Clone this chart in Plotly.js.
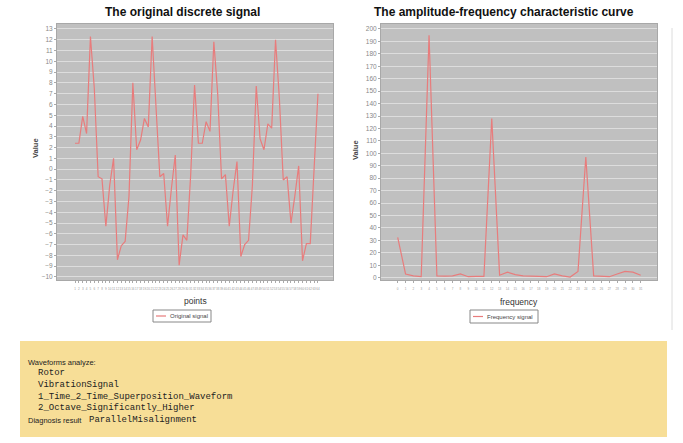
<!DOCTYPE html>
<html><head><meta charset="utf-8">
<script src="https://cdn.plot.ly/plotly-3.0.1.min.js"></script>
<style>html,body{margin:0;padding:0;background:#fff;overflow:hidden}#chart{width:683px;height:443px}</style>
</head><body><div id="chart"></div>
<script>
// ---- data ----
const signalPoints = ['1','2','3','4','5','6','7','8','9','10','11','12','13','14','15','16',
  '17','18','19','20','21','22','23','24','25','26','27','28','29','30','31','32',
  '33','34','35','36','37','38','39','40','41','42','43','44','45','46','47','48',
  '49','50','51','52','53','54','55','56','57','58','59','60','61','62','63','64'];
const signalValues = [2.4,2.4,4.9,3.3,12.3,7.5,-0.7,-0.9,-5.3,-1.5,1.0,-8.4,-7.1,-6.7,-2.5,8.0,
  1.8,2.7,4.7,3.9,12.3,6.0,-0.7,-0.4,-5.3,-1.8,1.3,-8.9,-6.1,-6.6,-0.5,7.8,
  2.4,2.4,4.4,3.5,11.8,7.0,-0.9,-0.5,-5.3,-2.0,0.7,-8.1,-7.0,-6.6,-1.5,7.7,
  2.8,1.8,4.2,3.8,12.0,6.5,-1.0,-0.7,-5.0,-2.5,0.3,-8.5,-6.9,-6.9,-0.5,7.0];
const freqBins = ['0','1','2','3','4','5','6','7','8','9','10','11','12','13','14','15',
  '16','17','18','19','20','21','22','23','24','25','26','27','28','29','30','31'];
const freqValues = [32.5,3.0,1.5,0.8,195,1.5,1.2,1.5,3.0,0.8,1.0,1.0,128,2.0,4.5,2.5,
  1.5,1.0,1.0,0.8,3.0,1.5,0.5,5.0,97,1.5,1.0,0.8,3.0,5.0,4.5,2.0];
const leftYTicks = {from: -10, to: 13, step: 1};
const rightYTicks = {from: 0, to: 200, step: 10};
const analysisLines = ['Rotor','VibrationSignal','1_Time_2_Time_Superposition_Waveform','2_Octave_Significantly_Higher'];
const diagnosisLabel = 'Diagnosis result';
const diagnosisValue = 'ParallelMisalignment';

// ---- layout helpers ----
const W = 683, H = 443;
const px = x => x / W, py = y => 1 - y / H;
const lineColor = '#e87c7c';
const sans = 'Liberation Sans, Arial, sans-serif';
const mono = 'Liberation Mono, monospace';

const traces = [
  {x: signalPoints, y: signalValues, type: 'scatter', mode: 'lines', xaxis: 'x', yaxis: 'y',
   line: {color: lineColor, width: 1.2}, showlegend: false, hoverinfo: 'skip'},
  {x: freqBins, y: freqValues, type: 'scatter', mode: 'lines', xaxis: 'x2', yaxis: 'y2',
   line: {color: lineColor, width: 1.2}, showlegend: false, hoverinfo: 'skip'}
];

function xAx(d, r) {
  return {domain: d, range: r, type: 'category', tickmode: 'linear', tick0: 0, dtick: 1,
    showgrid: false, zeroline: false,
    ticks: 'outside', ticklen: 2, tickcolor: '#aaa', tickwidth: 1,
    tickfont: {size: 3, color: '#999', family: sans}, tickangle: 0, ticklabelstandoff: 3,
    showline: true, linecolor: '#a8a8a8', mirror: true};
}
function yAx(d, r, t) {
  return {domain: d, range: r, tick0: t.from, dtick: t.step, showgrid: true,
    gridcolor: 'rgba(240,240,240,0.75)', gridwidth: 0.8, zeroline: false,
    ticks: 'outside', ticklen: 2, tickcolor: '#aaa',
    tickfont: {size: 6.5, color: '#888', family: sans},
    showline: true, linecolor: '#a8a8a8', mirror: true};
}

const layout = {
  width: W, height: H, margin: {l: 0, r: 0, t: 0, b: 0},
  paper_bgcolor: '#fff', plot_bgcolor: '#c0c0c0', showlegend: false,
  xaxis: xAx([px(57), px(333)], [-4.67, 66.9]),
  yaxis: yAx([py(280), py(24)], [-10.28, 13.46], leftYTicks),
  xaxis2: Object.assign(xAx([px(381), px(657)], [-2.13, 33.08]), {anchor: 'y2'}),
  yaxis2: Object.assign(yAx([py(280), py(24)], [-1.85, 204], rightYTicks), {anchor: 'x2'}),
  shapes: [
    {type: 'rect', xref: 'paper', yref: 'paper', x0: px(20), x1: px(667), y0: py(437), y1: py(341),
     fillcolor: '#f7de97', line: {width: 0}, layer: 'below'},
    {type: 'line', xref: 'paper', yref: 'paper', x0: px(672), x1: px(672), y0: py(330), y1: py(28),
     line: {color: '#dcdcdc', width: 1}},
    // legend boxes
    {type: 'rect', xref: 'paper', yref: 'paper', x0: px(153), x1: px(211), y0: py(322), y1: py(310),
     fillcolor: '#fff', line: {color: '#888', width: 1}},
    {type: 'line', xref: 'paper', yref: 'paper', x0: px(156), x1: px(166), y0: py(316), y1: py(316),
     line: {color: lineColor, width: 1.2}},
    {type: 'rect', xref: 'paper', yref: 'paper', x0: px(470), x1: px(538), y0: py(323), y1: py(310),
     fillcolor: '#fff', line: {color: '#888', width: 1}},
    {type: 'line', xref: 'paper', yref: 'paper', x0: px(473), x1: px(483), y0: py(316.5), y1: py(316.5),
     line: {color: lineColor, width: 1.2}}
  ],
  annotations: []
};

const A = layout.annotations;
function ann(text, x, y, o) {
  A.push(Object.assign({text: text, xref: 'paper', yref: 'paper', x: px(x), y: py(y),
    showarrow: false, xanchor: 'center', yanchor: 'middle',
    font: {family: sans, size: 7, color: '#333'}}, o || {}));
}
ann('<b>The original discrete signal</b>', 182, 12, {font: {family: sans, size: 12, color: '#111'}});
ann('<b>The amplitude-frequency characteristic curve</b>', 504, 12, {font: {family: sans, size: 12, color: '#111'}});
ann('<b>Value</b>', 35, 148, {textangle: -90, font: {family: sans, size: 7.5, color: '#444'}});
ann('<b>Value</b>', 355, 150, {textangle: -90, font: {family: sans, size: 7.5, color: '#444'}});
ann('points', 195, 301, {font: {family: sans, size: 8.5, color: '#333'}});
ann('frequency', 519, 302, {font: {family: sans, size: 8.5, color: '#333'}});
ann('Original signal', 168, 316, {xanchor: 'left', font: {family: sans, size: 6, color: '#444'}});
ann('Frequency signal', 485, 316.5, {xanchor: 'left', font: {family: sans, size: 6, color: '#444'}});

ann('Waveforms analyze:', 26, 362, {xanchor: 'left', font: {family: sans, size: 7.5, color: '#222'}});
const lineYs = [373, 385, 397, 408];
analysisLines.forEach((t, i) => ann(t, 36, lineYs[i], {xanchor: 'left', font: {family: mono, size: 9, color: '#222'}}));
ann(diagnosisLabel, 26, 420, {xanchor: 'left', font: {family: sans, size: 7.5, color: '#222'}});
ann(diagnosisValue, 87, 420, {xanchor: 'left', font: {family: mono, size: 9, color: '#222'}});

Plotly.newPlot('chart', traces, layout, {staticPlot: true, displayModeBar: false});
</script></body></html>
